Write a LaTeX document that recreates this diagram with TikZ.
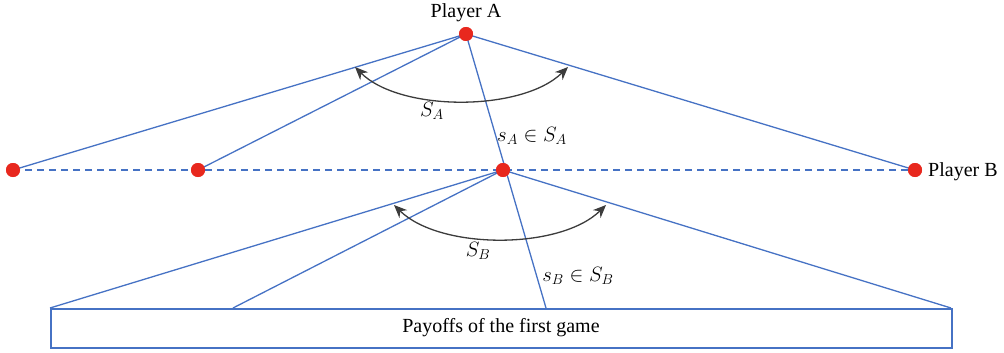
\documentclass[tikz,border=0pt]{standalone}
\usepackage{fontspec}
\setmainfont{Liberation Serif}
\usetikzlibrary{arrows.meta}
\definecolor{lineblue}{RGB}{70,114,196}
\definecolor{dotred}{RGB}{232,40,30}
\definecolor{arcgray}{RGB}{60,60,60}
\tikzset{
  dot/.style={circle,fill=dotred,inner sep=0pt,minimum size=14pt},
  conn/.style={draw=lineblue,line width=1.3pt},
  dashconn/.style={draw=lineblue,line width=1.3pt,dash pattern=on 7pt off 5pt},
  arcarrow/.style={draw=arcgray,line width=1.3pt,{Stealth[length=13pt,width=11pt]}-{Stealth[length=13pt,width=11pt]}},
  lbl/.style={inner sep=0pt,font=\fontsize{20}{24}\selectfont},
  payoff/.style={draw=lineblue,line width=1.5pt,minimum width=901pt,minimum height=39pt,inner sep=0pt,font=\fontsize{20}{24}\selectfont}
}
\begin{document}
\begin{tikzpicture}[x=1pt,y=-1pt]
\useasboundingbox (0,0) rectangle (1004,353);
% box
\node[payoff,anchor=north west] (box) at (50,308) {};
\node[lbl] (boxtext) at (501,328) {Payoffs of the first game};
% coordinates on box top
\coordinate (b1) at (50,308);
\coordinate (b2) at (233,308);
\coordinate (b3) at (546,308);
\coordinate (b4) at (951,308);
% dots
\node[dot] (A) at (466,34) {};
\node[dot] (L1) at (13,170) {};
\node[dot] (L2) at (198,170) {};
\node[dot] (C) at (503,170) {};
\node[dot] (R) at (915,170) {};
% dashed line
\draw[dashconn] (L1.center) -- (R.center);
% lines from A
\draw[conn] (A.center) -- (L1.center);
\draw[conn] (A.center) -- (L2.center);
\draw[conn] (A.center) -- (R.center);
\draw[conn] (A.center) -- (b3);
% lines from C
\draw[conn] (C.center) -- (b1);
\draw[conn] (C.center) -- (b2);
\draw[conn] (C.center) -- (b4);
% redraw dots on top
\node[dot] at (A) {};
\node[dot] at (L1) {};
\node[dot] at (L2) {};
\node[dot] at (C) {};
\node[dot] at (R) {};
% arcs
\coordinate (sa1) at (355,67);
\coordinate (sa2) at (568,67);
\draw[arcarrow] (sa1) .. controls (400,112) and (522,112) .. (sa2);
\coordinate (sb1) at (394,205);
\coordinate (sb2) at (606,205);
\draw[arcarrow] (sb1) .. controls (440,250) and (560,250) .. (sb2);
% labels
\node[lbl] (pA) at (466,13) {Player A};
\node[lbl,anchor=west] (pB) at (928,172) {Player B};
\node[lbl] (SA) at (432,111) {$S_A$};
\node[lbl] (sAin) at (532,136) {$s_A \in S_A$};
\node[lbl] (SB) at (478,251) {$S_B$};
\node[lbl] (sBin) at (578,276) {$s_B \in S_B$};
\end{tikzpicture}
\end{document}
